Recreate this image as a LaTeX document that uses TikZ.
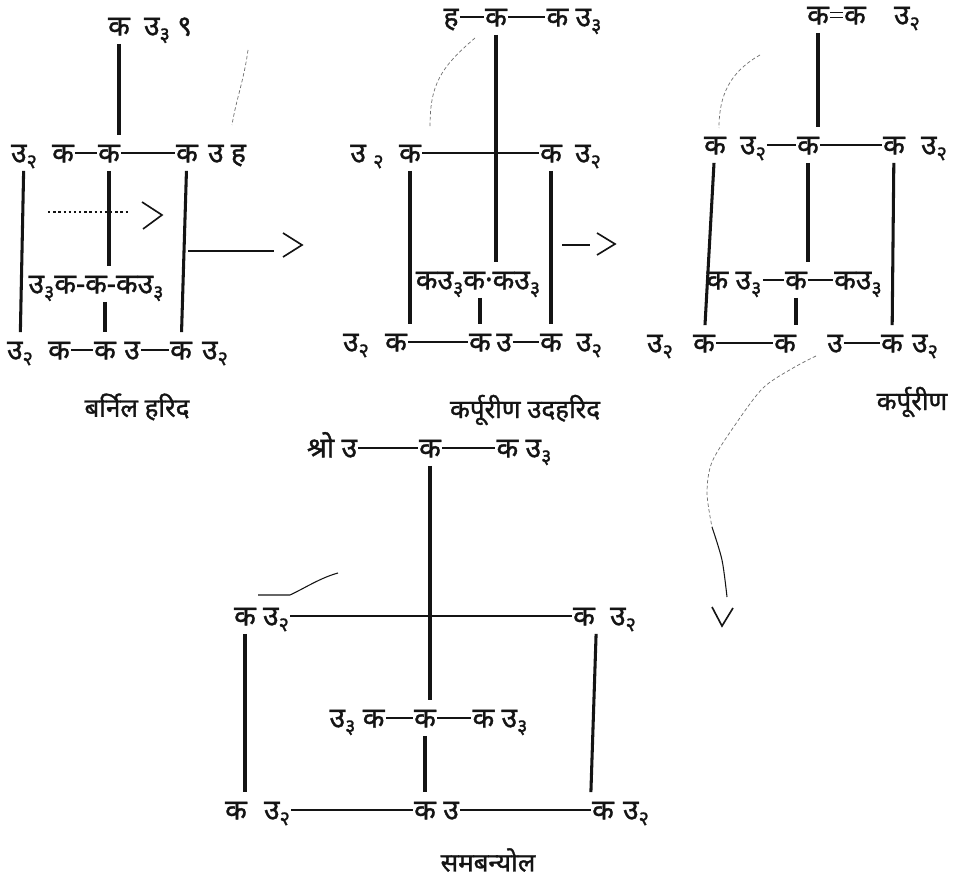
\documentclass[tikz,border=0pt]{standalone}
\usepackage{fontspec}
\setmainfont[Script=Devanagari]{Noto Sans}
\newfontfamily\devfont[Script=Devanagari, FakeBold=1.2]{Noto Sans}
\usepackage{tikz}
\usetikzlibrary{positioning}
\definecolor{ink}{RGB}{20,20,20}
\definecolor{faint}{RGB}{110,110,110}
\newcommand{\subs}[1]{\raisebox{-0.2em}{\fontsize{17}{17}\selectfont #1}}
\tikzset{
  atom/.style={inner sep=1pt, text height=18pt, text depth=2pt,
    font=\fontsize{24}{28}\devfont, text=ink},
  namebox/.style={inner sep=0pt, font=\fontsize{22}{26}\devfont, text=ink},
  bond/.style={line width=2pt, color=ink},
  dbond/.style={line width=1.4pt, color=ink, double, double distance=2.6pt},
  vbond/.style={line width=2.6pt, color=ink, shorten <=4pt, shorten >=4pt},
  rxn/.style={line width=1.5pt, color=ink},
  chev/.style={line width=1.4pt, color=ink},
  dots/.style={line width=2pt, color=ink, dash pattern=on 2pt off 2.4pt},
  migr/.style={line width=0.6pt, color=faint, dash pattern=on 3pt off 2pt}
}

\begin{document}
\begin{tikzpicture}[x=0.85pt, y=-0.85pt]
  \useasboundingbox (0,0) rectangle (957,889);

  % bornyl chloride
  \node[atom] (t1c) at (119,26) {क};
  \node[atom] (t1h) at (168,26) {उ\subs{३}\ ९};
  \node[atom] (r1h) at (24,153) {उ\subs{२}};
  \node[atom] (r1c) at (63,153) {क};
  \node[atom] (r1m) at (109,153) {क};
  \node[atom] (r1rc) at (187,153) {क};
  \node[atom] (r1rt) at (227,153) {उ\ ह};
  \node[atom] (m1) at (96,284) {उ\subs{३}क-क-कउ\subs{३}};
  \node[atom] (b1h) at (20,350) {उ\subs{२}};
  \node[atom] (b1c) at (59,350) {क};
  \node[atom] (b1mc) at (105,350) {क};
  \node[atom] (b1mh) at (132,350) {उ};
  \node[atom] (b1rc) at (181,350) {क};
  \node[atom] (b1rh) at (215,350) {उ\subs{२}};
  \node[namebox] (n1) at (137,407) {बर्निल हरिद};
  \draw[bond] (r1c) -- (r1m);
  \draw[bond] (r1m) -- (r1rc);
  \draw[bond] (b1c) -- (b1mc);
  \draw[bond] (b1mh) -- (b1rc);
  \draw[vbond] (t1c) -- (t1c |- r1m.north);
  \draw[vbond] (r1m) -- (r1m |- m1.north);
  \draw[vbond] (m1.south -| b1mc) -- (b1mc);
  \draw[vbond] (r1h) -- (b1h);
  \draw[vbond] (r1rc) -- (b1rc);
  \draw[migr] (248,50) .. controls (244,80) and (236,100) .. (232,125);
  \coordinate (d1a) at (48,212);
  \coordinate (d1b) at (130,212);
  \draw[dots] (d1a) -- (d1b);
  \draw[chev] (d1b) ++(12,-10) -- ++(20,13) -- ++(-19,14);

  % first arrow
  \coordinate (a1s) at (188,251);
  \coordinate (a1e) at (274,251);
  \draw[rxn] (a1s) -- (a1e);
  \draw[chev] (a1e) ++(9,-18) -- ++(19,12) -- ++(-19,12);

  % camphene hydrochloride
  \node[atom] (t2h) at (451,17) {ह};
  \node[atom] (t2c) at (496,17) {क};
  \node[atom] (t2r) at (574,17) {क उ\subs{३}};
  \node[atom] (r2h) at (367,153) {उ\ \subs{२}};
  \node[atom] (r2c) at (410,153) {क};
  \node[atom] (r2rc) at (551,153) {क};
  \node[atom] (r2rh) at (588,153) {उ\subs{२}};
  \node[atom] (m2) at (478,280) {कउ\subs{३}क·कउ\subs{३}};
  \node[atom] (b2h) at (356,342) {उ\subs{२}};
  \node[atom] (b2c) at (396,342) {क};
  \node[atom] (b2mc) at (480,342) {क};
  \node[atom] (b2mh) at (504,342) {उ};
  \node[atom] (b2rc) at (551,342) {क};
  \node[atom] (b2rh) at (589,342) {उ\subs{२}};
  \node[namebox] (n2) at (525,410) {कर्पूरीण उदहरिद};
  \draw[bond] (t2h) -- (t2c);
  \draw[bond] (t2c) -- (t2r);
  \draw[bond] (r2c) -- (r2rc);
  \draw[bond] (b2c) -- (b2mc);
  \draw[bond] (b2mh) -- (b2rc);
  \draw[vbond] (t2c) -- (t2c |- m2.north);
  \draw[vbond] (r2c) -- (r2c |- b2c.north);
  \draw[vbond] (r2rc) -- (b2rc);
  \draw[vbond] (m2.south -| b2mc) -- (b2mc);
  \draw[migr] (475,38) .. controls (440,68) and (430,85) .. (430,127);

  % second arrow
  \coordinate (a2s) at (562,245);
  \coordinate (a2e) at (590,245);
  \draw[rxn] (a2s) -- (a2e);
  \draw[chev] (a2e) ++(7,-12) -- ++(18,11) -- ++(-18,11);

  % camphene
  \node[atom] (t3c) at (818,15) {क};
  \node[atom] (t3r) at (882,15) {क\quad उ\subs{२}};
  \node[atom] (r3lc) at (715,145) {क};
  \node[atom] (r3lh) at (753,145) {उ\subs{२}};
  \node[atom] (r3m) at (808,145) {क};
  \node[atom] (r3rc) at (894,145) {क};
  \node[atom] (r3rh) at (934,145) {उ\subs{२}};
  \node[atom] (m3l) at (734,280) {क उ\subs{३}};
  \node[atom] (m3c) at (796,280) {क};
  \node[atom] (m3r) at (858,280) {कउ\subs{३}};
  \node[atom] (b3h) at (660,343) {उ\subs{२}};
  \node[atom] (b3c) at (704,343) {क};
  \node[atom] (b3m) at (785,343) {क};
  \node[atom] (b3hh) at (835,343) {उ};
  \node[atom] (b3rc) at (892,343) {क};
  \node[atom] (b3rh) at (925,343) {उ\subs{२}};
  \node[namebox] (n3) at (912,402) {कर्पूरीण};
  \draw[dbond] (t3c) -- (t3r);
  \draw[bond] (r3lh) -- (r3m);
  \draw[bond] (r3m) -- (r3rc);
  \draw[bond] (m3l) -- (m3c);
  \draw[bond] (m3c) -- (m3r);
  \draw[bond] (b3c) -- (b3m);
  \draw[bond] (b3hh) -- (b3rc);
  \draw[vbond] (t3c) -- (t3c |- r3m.north);
  \draw[vbond] (r3lc) -- (b3c);
  \draw[vbond] (r3m) -- (r3m |- m3c.north);
  \draw[vbond] (m3c) -- (m3c |- b3m.north);
  \draw[vbond] (r3rc) -- (b3rc);
  \draw[migr] (760,55) .. controls (730,72) and (719,95) .. (719,128);

  % third arrow, downwards
  \coordinate (s5) at (816,356);
  \coordinate (e5) at (727,597);
  \draw[migr] plot[smooth] coordinates {(s5) (793,368) (763,388) (735,425) (712,462) (707,493) (712,527)};
  \draw[line width=0.9pt, ink] plot[smooth] coordinates {(712,527) (722,560) (e5)};
  \draw[chev] (e5) ++(-15,10) -- ++(10,19) -- ++(11,-18);

  % isoborneol
  \node[atom] (t4o) at (332,448) {श्रो उ};
  \node[atom] (t4c) at (430,448) {क};
  \node[atom] (t4r) at (524,448) {क उ\subs{३}};
  \node[atom] (r4lc) at (245,616) {क};
  \node[atom] (r4lh) at (276,616) {उ\subs{२}};
  \node[atom] (r4rc) at (584,616) {क};
  \node[atom] (r4rh) at (623,616) {उ\subs{२}};
  \node[atom] (m4l) at (357,718) {उ\subs{३} क};
  \node[atom] (m4c) at (425,718) {क};
  \node[atom] (m4r) at (500,718) {क उ\subs{३}};
  \node[atom] (b4c) at (236,810) {क};
  \node[atom] (b4ch) at (277,810) {उ\subs{२}};
  \node[atom] (b4m) at (425,810) {क};
  \node[atom] (b4mh) at (451,810) {उ};
  \node[atom] (b4rc) at (603,810) {क};
  \node[atom] (b4rh) at (636,810) {उ\subs{२}};
  \node[namebox] (n4) at (488,860) {समबन्योल};
  \draw[bond] (t4o) -- (t4c);
  \draw[bond] (t4c) -- (t4r);
  \draw[bond] (r4lh) -- (r4rc);
  \draw[bond] (m4l) -- (m4c);
  \draw[bond] (m4c) -- (m4r);
  \draw[bond] (b4ch) -- (b4m);
  \draw[bond] (b4mh) -- (b4rc);
  \draw[vbond] (t4c) -- (t4c |- m4c.north);
  \draw[vbond] (r4lc) -- (r4lc |- b4c.north);
  \draw[vbond] (r4rc.south east) -- (b4rc.north west);
  \draw[vbond] (m4c) -- (b4m);
  \draw[line width=0.9pt, ink] (258,595) -- (290,595) .. controls (305,588) and (320,578) .. (338,573);
\end{tikzpicture}
\end{document}
